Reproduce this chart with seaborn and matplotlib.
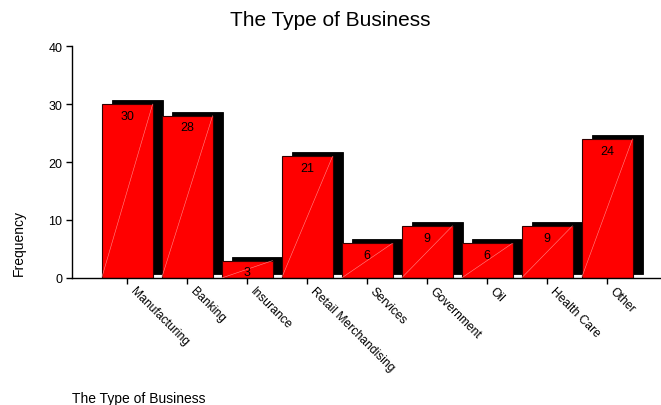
import numpy as np
import pandas as pd
import matplotlib
matplotlib.use("Agg")
import matplotlib.pyplot as plt
import matplotlib.transforms as mtransforms
import seaborn as sns

# data
business = ['Manufacturing', 'Banking', 'Insurance', 'Retail Merchandising',
            'Services', 'Government', 'Oil', 'Health Care', 'Other']
freq = [30, 28, 3, 21, 6, 9, 6, 9, 24]

df = pd.DataFrame({'Business': business, 'Frequency': freq})

sns.set_style("white")
plt.rcParams['font.family'] = ['Liberation Sans', 'DejaVu Sans']
plt.rcParams['text.color'] = 'black'
plt.rcParams['xtick.color'] = 'black'
plt.rcParams['ytick.color'] = 'black'
plt.rcParams['axes.labelcolor'] = 'black'

fig = plt.figure(figsize=(6.61, 4.06), dpi=100)
ax = fig.add_axes([72 / 661, 1 - 279 / 406, 1 - 72 / 661, 232 / 406])

bw = 0.85
pos = np.arange(len(freq))
# shadow behind each bar (3d look), shifted right and up
ax.bar(pos + 0.17, freq, width=bw, bottom=0.7, color='black',
       edgecolor='black', linewidth=0.6, zorder=1)

sns.barplot(data=df, x='Business', y='Frequency', color='#ff0000',
            saturation=1, width=bw, edgecolor='#300000', linewidth=0.8,
            ax=ax, zorder=2)

# faint diagonal seam across each bar
for p, v in zip(pos, freq):
    ax.plot([p - bw / 2, p + bw / 2], [0, v], color='#ff8a8a', lw=0.4, zorder=3)
    ax.text(p, v - 1.0, str(v), ha='center', va='top', fontsize=9,
            color='black', zorder=4)

ax.set_xlim(-0.92, 8.9)
ax.set_ylim(0, 40)
ax.set_yticks([0, 10, 20, 30, 40])
ax.set_xlabel('')
ax.set_ylabel('')
ax.tick_params(axis='both', which='both', direction='out', length=4,
               width=1, color='black', labelsize=9, pad=3,
               bottom=True, left=True)
ax.set_xticks(pos)
ax.set_xticklabels(business, rotation=-45, ha='left', va='top',
                   rotation_mode='anchor', fontsize=8.7)
offset = mtransforms.ScaledTranslation(9 / 100, 3 / 100, fig.dpi_scale_trans)
for lab in ax.get_xticklabels():
    lab.set_transform(lab.get_transform() + offset)

sns.despine(ax=ax)
for s in ['left', 'bottom']:
    ax.spines[s].set_color('black')
    ax.spines[s].set_linewidth(1)

fig.text(0.5, 1 - 20 / 406, 'The Type of Business', ha='center', va='center',
         fontsize=15)
fig.text(19 / 661, 1 - 243 / 406, 'Frequency', rotation=90, ha='center',
         va='center', fontsize=10)
fig.text(72 / 661, 1 - 399 / 406, 'The Type of Business', ha='left',
         va='center', fontsize=10)

fig.savefig('out.png', dpi=100)
